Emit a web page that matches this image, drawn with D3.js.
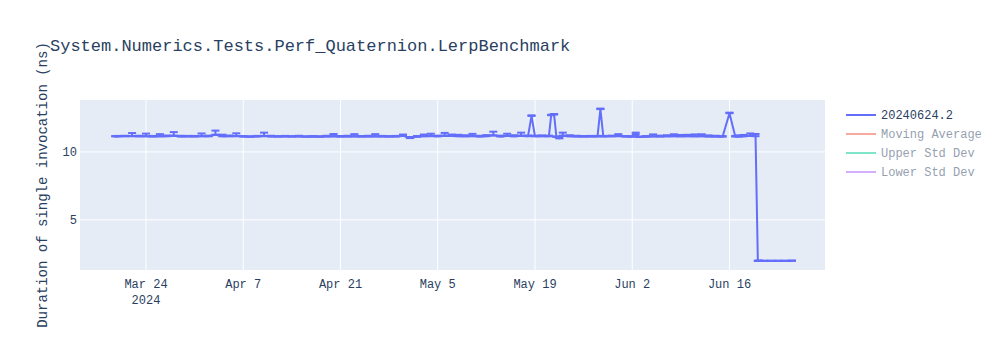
<!DOCTYPE html>
<html lang="en">
<head>
  <meta charset="UTF-8">
  <title>System.Numerics.Tests.Perf_Quaternion.LerpBenchmark</title>
  <style>
    html, body { margin: 0; background: #fff; }
    text { font-family: "Liberation Mono", "Courier New", monospace; fill: #2a3f5f; }
    .grid line { stroke: #fff; stroke-width: 1px; }
    .line { fill: none; stroke: #636efa; stroke-width: 2px; stroke-linejoin: round; }
    .err line { stroke: #636efa; stroke-width: 2px; }
  </style>
</head>
<body>
<svg width="1000" height="350"></svg>
<script src="https://d3js.org/d3.v7.min.js"></script>
<script>

// measurement times (build 20240624.2 history)
const dates = [
  "2024-03-19 14", "2024-03-20 00", "2024-03-21 00", "2024-03-22 00", "2024-03-23 00",
  "2024-03-24 00", "2024-03-25 00", "2024-03-26 00", "2024-03-27 00", "2024-03-28 00",
  "2024-03-29 00", "2024-03-30 00", "2024-03-31 00",
  "2024-04-01 00", "2024-04-02 00", "2024-04-03 00", "2024-04-04 00", "2024-04-05 00",
  "2024-04-06 00", "2024-04-07 00", "2024-04-08 00", "2024-04-09 00", "2024-04-10 00",
  "2024-04-11 00", "2024-04-12 00", "2024-04-13 00", "2024-04-14 00", "2024-04-15 00",
  "2024-04-16 00", "2024-04-17 00", "2024-04-18 00", "2024-04-19 00", "2024-04-20 00",
  "2024-04-21 00", "2024-04-22 00", "2024-04-23 00", "2024-04-24 00", "2024-04-25 00",
  "2024-04-26 00", "2024-04-27 00", "2024-04-28 00", "2024-04-29 00", "2024-04-30 00",
  "2024-05-01 00", "2024-05-02 00", "2024-05-03 00", "2024-05-04 00", "2024-05-05 00",
  "2024-05-06 00", "2024-05-07 00", "2024-05-08 00", "2024-05-09 00", "2024-05-10 00",
  "2024-05-11 00", "2024-05-12 00", "2024-05-13 00", "2024-05-14 00", "2024-05-15 00",
  "2024-05-16 00", "2024-05-17 00", "2024-05-18 00", "2024-05-18 12", "2024-05-19 00",
  "2024-05-20 00", "2024-05-21 00", "2024-05-21 08", "2024-05-21 18", "2024-05-22 02",
  "2024-05-22 12", "2024-05-23 00", "2024-05-24 00", "2024-05-25 00", "2024-05-26 00",
  "2024-05-27 00", "2024-05-28 00", "2024-05-28 10", "2024-05-28 20", "2024-05-30 00",
  "2024-05-31 00",
  "2024-06-01 00", "2024-06-02 00", "2024-06-02 12", "2024-06-03 00", "2024-06-04 00",
  "2024-06-05 00", "2024-06-06 00", "2024-06-07 00", "2024-06-08 00", "2024-06-09 00",
  "2024-06-10 00", "2024-06-11 00", "2024-06-12 00", "2024-06-13 00", "2024-06-14 00",
  "2024-06-15 00", "2024-06-16 00", "2024-06-16 20", "2024-06-17 08", "2024-06-18 00",
  "2024-06-19 00", "2024-06-19 18", "2024-06-20 02", "2024-06-20 06", "2024-06-21 00",
  "2024-06-22 00", "2024-06-23 00", "2024-06-24 00", "2024-06-25 00"
];

// duration of single invocation (ns)
const values = [
  11.14, 11.15, 11.16, 11.17, 11.15,
  11.15, 11.14, 11.15, 11.16, 11.20,
  11.14, 11.15, 11.14,
  11.16, 11.15, 11.27, 11.15, 11.16,
  11.17, 11.13, 11.12, 11.14, 11.18,
  11.14, 11.13, 11.14, 11.13, 11.14,
  11.12, 11.13, 11.12, 11.14, 11.16,
  11.13, 11.14, 11.15, 11.13, 11.14,
  11.15, 11.14, 11.13, 11.14, 11.18,
  11.02, 11.12, 11.16, 11.18, 11.15,
  11.20, 11.18, 11.16, 11.15, 11.17,
  11.14, 11.16, 11.22, 11.14, 11.18,
  11.15, 11.20, 11.16, 12.65, 11.15,
  11.16, 11.15, 12.70, 12.75, 11.10,
  11.00, 11.20, 11.15, 11.14, 11.13,
  11.14, 11.14, 13.15, 11.14, 11.15,
  11.17,
  11.13, 11.12, 11.30, 11.10, 11.12,
  11.15, 11.14, 11.15, 11.16, 11.15,
  11.16, 11.15, 11.16, 11.14, 11.13,
  11.12, 12.85, 11.13, 11.14, 11.15,
  11.20, 11.16, 1.98, 1.98, 1.98,
  1.98, 1.98, 1.98, 1.99
];

// upper error (ns); lower error is zero
const errors = [
  0.03, 0.03, 0.03, 0.22, 0.04,
  0.20, 0.04, 0.16, 0.05, 0.26,
  0.05, 0.03, 0.04,
  0.20, 0.05, 0.30, 0.12, 0.05,
  0.20, 0.04, 0.03, 0.04, 0.24,
  0.05, 0.03, 0.04, 0.03, 0.05,
  0.03, 0.04, 0.03, 0.05, 0.16,
  0.04, 0.05, 0.16, 0.04, 0.05,
  0.16, 0.04, 0.03, 0.04, 0.10,
  0.08, 0.05, 0.12, 0.16, 0.05,
  0.20, 0.10, 0.10, 0.08, 0.16,
  0.05, 0.08, 0.27, 0.06, 0.16,
  0.08, 0.22, 0.05, 0.04, 0.05,
  0.06, 0.05, 0.04, 0.04, 0.05,
  0.05, 0.22, 0.08, 0.05, 0.04,
  0.04, 0.04, 0.04, 0.04, 0.05,
  0.14,
  0.04, 0.04, 0.12, 0.04, 0.05,
  0.14, 0.06, 0.08, 0.14, 0.10,
  0.10, 0.14, 0.14, 0.08, 0.06,
  0.05, 0.04, 0.05, 0.08, 0.10,
  0.16, 0.16, 0.03, 0.03, 0.03,
  0.03, 0.03, 0.03, 0.03
];

const tickDates = ["2024-03-24", "2024-04-07", "2024-04-21", "2024-05-05", "2024-05-19", "2024-06-02", "2024-06-16"];
const yTicks = [5, 10];
const legendNames = ["20240624.2", "Moving Average", "Upper Std Dev", "Lower Std Dev"];
const legendColors = ["#636efa", "#EF553B", "#00cc96", "#ab63fa"];
const legendVisible = [true, false, false, false];

const svg = d3.select("svg"),
    margin = {top: 100, right: 175, bottom: 80, left: 80},
    width = +svg.attr("width") - margin.left - margin.right,
    height = +svg.attr("height") - margin.top - margin.bottom;

const parseTime = d3.timeParse("%Y-%m-%d %H"),
    parseDay = d3.timeParse("%Y-%m-%d");

const data = dates.map(function (d, i) {
  return {time: parseTime(d), value: values[i], err: errors[i]};
});

const x = d3.scaleTime()
    .domain([parseTime("2024-03-14 12"), parseTime("2024-06-29 18")])
    .range([0, width]);
const y = d3.scaleLinear().domain([1.32, 13.82]).range([height, 0]);

const g = svg.append("g").attr("transform", "translate(" + margin.left + "," + margin.top + ")");

g.append("rect").attr("width", width).attr("height", height).attr("fill", "#E5ECF6");

// grid
const ticks = tickDates.map(function (d) { return parseDay(d); });
g.append("g").attr("class", "grid")
  .selectAll("line").data(ticks).join("line")
    .attr("x1", function (d) { return x(d); }).attr("x2", function (d) { return x(d); })
    .attr("y1", 0).attr("y2", height);
g.append("g").attr("class", "grid")
  .selectAll("line").data(yTicks).join("line")
    .attr("x1", 0).attr("x2", width)
    .attr("y1", function (d) { return y(d); }).attr("y2", function (d) { return y(d); });

// x tick labels
const fmt = d3.timeFormat("%b %-d");
const xl = g.append("g").attr("font-size", 12).attr("text-anchor", "middle");
ticks.forEach(function (d, i) {
  const t = xl.append("text").attr("x", x(d)).attr("y", height + 18);
  t.append("tspan").attr("x", x(d)).text(fmt(d));
  if (i === 0) t.append("tspan").attr("x", x(d)).attr("dy", 16).text(d3.timeFormat("%Y")(d));
});

// y tick labels
g.append("g").attr("font-size", 12).attr("text-anchor", "end")
  .selectAll("text").data(yTicks).join("text")
    .attr("x", -3).attr("y", function (d) { return y(d); }).attr("dy", "0.35em")
    .text(function (d) { return d; });

// error bars (upper only, lower cap sits on the value)
const cap = 4;
const eb = g.append("g").attr("class", "err").selectAll("g").data(data).join("g");
eb.append("line")
  .attr("x1", function (d) { return x(d.time); }).attr("x2", function (d) { return x(d.time); })
  .attr("y1", function (d) { return y(d.value); }).attr("y2", function (d) { return y(d.value + d.err); });
eb.append("line")
  .attr("x1", function (d) { return x(d.time) - cap; }).attr("x2", function (d) { return x(d.time) + cap; })
  .attr("y1", function (d) { return y(d.value + d.err); }).attr("y2", function (d) { return y(d.value + d.err); });
eb.append("line")
  .attr("x1", function (d) { return x(d.time) - cap; }).attr("x2", function (d) { return x(d.time) + cap; })
  .attr("y1", function (d) { return y(d.value); }).attr("y2", function (d) { return y(d.value); });

const line = d3.line()
    .x(function (d) { return x(d.time); })
    .y(function (d) { return y(d.value); });

g.append("path").datum(data).attr("class", "line").attr("d", line);

// titles
svg.append("text").attr("x", 50).attr("y", 51).attr("font-size", 17)
  .text("System.Numerics.Tests.Perf_Quaternion.LerpBenchmark");
svg.append("text")
  .attr("transform", "translate(47," + (margin.top + height / 2) + ") rotate(-90)")
  .attr("text-anchor", "middle").attr("font-size", 14)
  .text("Duration of single invocation (ns)");

// legend
const lg = svg.append("g").attr("transform", "translate(841,115)")
  .selectAll("g").data(legendNames).join("g")
    .attr("transform", function (d, i) { return "translate(0," + i * 19 + ")"; })
    .attr("opacity", function (d, i) { return legendVisible[i] ? 1 : 0.5; });
lg.append("line").attr("x1", 5).attr("x2", 35).attr("y1", 0).attr("y2", 0)
  .attr("stroke", function (d, i) { return legendColors[i]; }).attr("stroke-width", 2);
lg.append("text").attr("x", 40).attr("dy", "0.35em").attr("font-size", 12)
  .text(function (d) { return d; });

</script>
</body>
</html>
